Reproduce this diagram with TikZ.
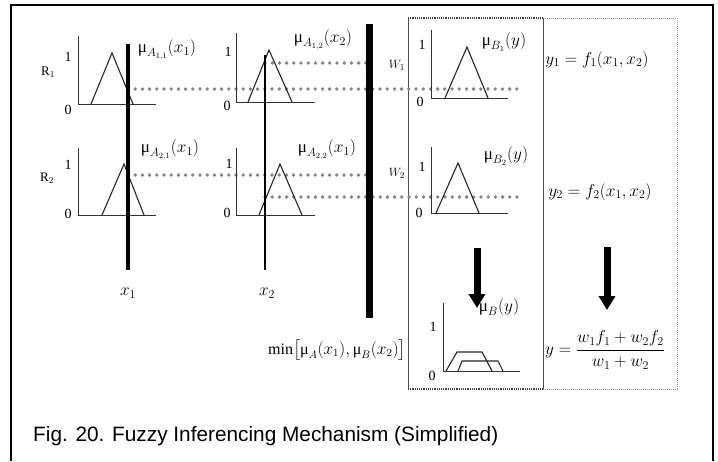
\documentclass[tikz,border=0pt]{standalone}
\usepackage{amsmath}
\usepackage{fontspec}
\setmainfont{Liberation Serif}
\newfontfamily\capfont{Liberation Sans}
\usetikzlibrary{arrows.meta}
\newcommand{\umu}{\mathord{\mbox{μ}}}
\tikzset{
  axis/.style={draw=black!80, line width=0.9pt},
  mf/.style={draw=black!85, line width=1.1pt, line join=miter},
  dotline/.style={draw=black!48, line width=3.8pt, line cap=round, dash pattern=on 0pt off 7.2pt},
  lbl/.style={inner sep=0pt, font=\fontsize{17}{20}\selectfont},
  tick/.style={inner sep=0pt, font=\fontsize{14}{16}\selectfont},
  rlbl/.style={inner sep=0pt, font=\fontsize{13}{15}\selectfont},
  wlbl/.style={inner sep=0pt, font=\fontsize{13}{15}\selectfont},
  fatarrow/.style={draw=black, line width=7pt, -{Triangle[width=16pt,length=14pt]}},
}
\begin{document}
\begin{tikzpicture}[x=1pt,y=-1pt]
\useasboundingbox (0,0) rectangle (718,461);
% outer frame (open at bottom)
\draw[line width=2.5pt] (11,461) -- (11,5) -- (713,5) -- (713,461);

% consequent boxes
\draw[black!40, line width=1pt, densely dotted] (543,18) -- (677,18) -- (677,389) -- (543,389);
\draw[black!70, line width=1pt] (408,18) -- (408,389) (543,18) -- (543,389);
\draw[black!75, line width=1.2pt, densely dotted] (408,18) -- (543,18) (408,389) -- (543,389);

% coordinates for dotted connectors
\coordinate (r1a) at (128,89);  \coordinate (r1b) at (520,89);
\coordinate (r1c) at (265,63);  \coordinate (r1d) at (366,63);
\coordinate (r2c) at (128,175); \coordinate (r2d) at (366,175);
\coordinate (r2a) at (265,197); \coordinate (r2b) at (520,197);
\draw[dotline] (r1a) -- (r1b);
\draw[dotline] (r1c) -- (r1d);
\draw[dotline] (r2c) -- (r2d);
\draw[dotline] (r2a) -- (r2b);

% row 1, input 1
\draw[axis] (78,36) -- (78,104) -- (156,104);
\draw[mf] (91,104) -- (112,53) -- (133,104);
% row 1, input 2
\draw[axis] (236,33) -- (236,102) -- (315,102);
\draw[mf] (248,102) -- (269,50) -- (292,102);
% row 2, input 1
\draw[axis] (78,148) -- (78,215) -- (156,215);
\draw[mf] (102,215) -- (124,164) -- (144,215);
% row 2, input 2
\draw[axis] (236,148) -- (236,215) -- (315,215);
\draw[mf] (259,215) -- (280,164) -- (302,215);
% consequent row 1
\draw[axis] (431,30) -- (431,98) -- (508,98);
\draw[mf] (445,98) -- (467,47) -- (488,98);
% consequent row 2
\draw[axis] (431,147) -- (431,213) -- (508,213);
\draw[mf] (436,213) -- (458,163) -- (479,213);
% aggregate
\draw[axis] (443,303) -- (443,371) -- (520,371);
\draw[mf] (446,371) -- (457,352) -- (482,352) -- (492,371);
\draw[mf] (458,371) -- (462,361) -- (498,361) -- (503,371);

% input bars
\coordinate (x1t) at (128,44);  \coordinate (x1b) at (128,270);
\coordinate (x2t) at (265,55);  \coordinate (x2b) at (265,270);
\coordinate (mnt) at (369,24);  \coordinate (mnb) at (369,318);
\draw[line width=4.3pt] (x1t) -- (x1b);
\draw[line width=2pt] (x2t) -- (x2b);
\draw[line width=7pt] (mnt) -- (mnb);

% arrows
\coordinate (a1s) at (477,248); \coordinate (a1e) at (477,308);
\coordinate (a2s) at (607,247); \coordinate (a2e) at (607,310);
\draw[fatarrow] (a1s) -- (a1e);
\draw[fatarrow] (a2s) -- (a2e);

% tick labels
\node[tick] (t1a) at (68,57) {1};   \node[tick] (t0a) at (68,110) {0};
\node[tick] (t1b) at (228,52) {1};  \node[tick] (t0b) at (227,106) {0};
\node[tick] (t1c) at (68,165) {1};  \node[tick] (t0c) at (68,214) {0};
\node[tick] (t1d) at (229,164) {1}; \node[tick] (t0d) at (227,213) {0};
\node[tick] (t1e) at (422,45) {1};  \node[tick] (t0e) at (420,102) {0};
\node[tick] (t1f) at (422,167) {1}; \node[tick] (t0f) at (419,213) {0};
\node[tick] (t1g) at (433,327) {1}; \node[tick] (t0g) at (432,376) {0};

% rule labels
\node[rlbl] (R1) at (48,72) {R$_1$};
\node[rlbl] (R2) at (47,178) {R$_2$};

% membership labels
\node[lbl] (m11) at (167,50) {$\umu_{A_{1,1}}(x_1)$};
\node[lbl] (m12) at (323,40) {$\umu_{A_{1,2}}(x_2)$};
\node[lbl] (m21) at (170,150) {$\umu_{A_{2,1}}(x_1)$};
\node[lbl] (m22) at (327,150) {$\umu_{A_{2,2}}(x_1)$};
\node[lbl] (mb1) at (504,42) {$\umu_{B_1}(y)$};
\node[lbl] (mb2) at (506,156) {$\umu_{B_2}(y)$};
\node[lbl] (mb) at (499,307) {$\umu_{B}(y)$};

\node[wlbl] (W1) at (397,65) {$W_1$};
\node[wlbl] (W2) at (397,173) {$W_2$};

\node[lbl] (y1) at (597,60) {$y_1=f_1(x_1,x_2)$};
\node[lbl] (y2) at (600,192) {$y_2=f_2(x_1,x_2)$};

\node[lbl] (xl1) at (128,293) {$x_1$};
\node[lbl] (xl2) at (267,293) {$x_2$};

\node[inner sep=0pt, font=\fontsize{16}{19}\selectfont] (mn) at (337,350) {min$\bigl[\umu_A(x_1),\umu_B(x_2)\bigr]$};
\node[lbl] (yy) at (605,350) {$y=\dfrac{w_1f_1+w_2f_2}{w_1+w_2}$};

\node[anchor=base west, inner sep=0pt, font=\capfont\fontsize{20.8}{24}\selectfont] (cap) at (33,441)
  {Fig. 20. Fuzzy Inferencing Mechanism (Simplified)};
\end{tikzpicture}
\end{document}
